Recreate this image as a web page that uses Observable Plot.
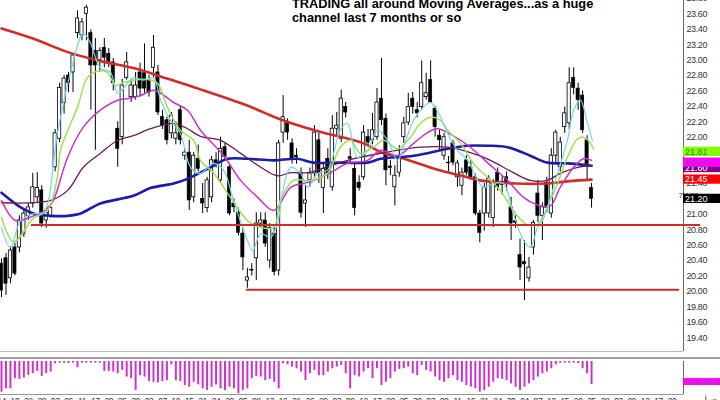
<!DOCTYPE html>
<html><head><meta charset="utf-8">
<script src="https://cdn.jsdelivr.net/npm/d3@7"></script>
<script src="https://cdn.jsdelivr.net/npm/@observablehq/plot@0.6"></script>
<style>
html,body{margin:0;padding:0;background:#fff;width:720px;height:400px;overflow:hidden;font-family:"Liberation Sans",Arial,sans-serif;}
#wrap{position:relative;width:720px;height:400px;overflow:hidden;}
#price{position:absolute;left:0;top:0;}
#ind{position:absolute;left:0;top:357px;border-top:2px solid #a0a0a0;width:720px;}
#title{position:absolute;left:292px;top:-3.4px;font:bold 12.8px "Liberation Sans",Arial,sans-serif;line-height:14.4px;color:#000;white-space:nowrap;z-index:2;}
.ax text{letter-spacing:-0.4px;}
</style></head>
<body>
<div id="wrap">
  <div id="price"></div>
  <div id="ind"></div>
  <div id="title">TRADING all around Moving Averages...as a huge<br>channel last 7 months or so</div>
</div>
<script>
// ---- candle data (bar index = position in arrays) ----
const open = [20.36,20.43,20.17,20.57,20.57,20.75,20.98,21.14,21.22,21.31,
20.92,20.98,21.61,21.98,22.44,22.80,22.84,23.35,23.32,23.60,
23.35,23.12,23.00,23.16,23.08,22.97,22.11,22.00,22.77,22.52,
22.52,22.84,22.83,22.74,22.90,22.84,22.26,22.22,22.05,21.98,
22.35,21.76,21.80,21.22,21.72,21.20,21.08,21.22,21.70,21.44,
21.87,21.61,21.14,21.02,20.75,20.14,20.27,20.43,20.88,20.92,
20.40,20.75,20.27,22.06,22.18,21.92,21.76,21.53,21.14,21.44,
21.53,21.96,21.34,21.72,21.35,22.11,21.98,22.39,21.74,21.59,
21.41,21.48,22.00,21.96,22.00,22.50,22.24,21.62,21.35,21.54,
22.00,22.19,22.50,22.35,22.39,22.52,22.74,22.37,22.02,21.76,
21.67,21.92,21.48,21.37,21.70,21.61,21.48,21.01,21.01,21.01,
20.95,21.54,21.38,21.48,21.09,20.91,20.47,20.38,20.17,20.57,
21.27,20.98,21.41,21.01,21.76,21.61,22.13,22.18,22.77,22.63,
22.54,21.96,21.34];
const high = [20.42,20.49,20.58,20.62,20.98,21.05,21.14,21.53,21.54,21.37,
21.05,21.14,22.10,22.70,22.80,22.84,23.08,23.64,23.54,23.71,
23.39,23.28,23.16,23.28,23.15,23.02,22.20,22.75,23.10,22.75,
22.84,22.96,23.21,22.80,23.32,22.93,22.35,22.26,22.32,22.20,
22.40,21.85,21.96,21.80,21.90,21.40,21.48,21.75,21.80,22.00,
21.92,21.66,21.20,21.08,20.82,20.30,20.36,21.02,21.02,21.02,
20.88,20.85,21.96,22.54,22.24,21.98,21.85,21.60,21.40,21.60,
22.15,22.05,21.66,21.85,22.28,22.32,22.61,22.45,21.85,21.65,
21.50,22.15,22.10,22.31,22.63,23.02,22.30,21.70,21.63,21.89,
22.26,22.57,22.58,22.45,22.99,22.83,22.99,22.40,22.09,22.05,
21.75,21.96,21.70,21.60,21.76,21.70,21.52,21.05,21.40,21.50,
21.45,21.60,21.50,21.55,21.22,20.98,20.68,20.66,20.44,20.92,
21.44,21.15,21.48,21.85,22.09,22.00,22.39,22.90,22.90,22.70,
22.60,22.02,21.40];
const low = [19.92,19.95,20.10,20.20,20.50,20.70,20.92,21.08,21.14,20.83,
20.82,20.95,21.55,21.93,22.30,22.58,22.58,23.28,23.25,23.25,
22.35,21.83,22.84,22.90,22.90,22.60,21.61,21.90,22.74,22.45,
22.48,22.52,22.57,22.52,22.77,22.28,22.10,21.90,21.98,21.90,
21.90,21.70,21.05,21.15,21.55,21.01,21.02,21.15,21.60,21.40,
21.70,20.98,21.02,20.72,20.27,20.04,20.20,20.14,20.82,20.57,
20.30,20.20,20.20,21.92,21.96,21.65,21.65,20.95,20.83,21.35,
21.48,21.40,21.01,21.45,21.30,22.00,21.93,22.25,21.65,20.98,
21.30,21.44,21.88,21.90,21.96,22.15,21.37,21.50,21.11,21.48,
21.92,22.15,22.30,22.25,22.35,22.48,22.44,22.00,21.83,21.70,
21.55,21.63,21.35,21.24,21.50,21.44,20.98,20.63,20.78,20.95,
20.83,21.30,21.25,21.30,20.66,20.82,20.14,19.88,20.12,20.47,
20.89,20.66,21.02,20.95,21.66,21.55,22.05,22.10,22.55,22.35,
22.05,21.44,21.08];
const close = [20.01,20.10,20.53,20.23,20.92,21.01,21.09,21.35,21.34,20.88,
21.02,21.08,22.05,22.64,22.76,22.70,23.06,23.54,23.49,23.68,
22.93,22.93,23.12,23.03,22.97,22.70,21.85,22.67,22.97,22.67,
22.67,22.63,22.63,22.58,23.16,22.32,22.15,21.96,22.28,22.05,
21.96,21.80,21.18,21.76,21.59,21.14,21.44,21.70,21.66,21.85,
21.74,21.01,21.09,20.76,20.44,20.18,20.28,20.88,20.92,20.62,
20.82,20.25,21.92,22.26,22.06,21.72,21.74,21.02,21.18,21.53,
22.06,21.53,21.59,21.53,22.11,22.15,22.50,22.32,21.72,21.08,
21.34,22.06,21.93,22.09,22.45,22.22,21.57,21.60,21.50,21.76,
22.18,22.39,22.39,22.31,22.70,22.57,22.45,22.13,21.96,22.00,
21.66,21.67,21.66,21.54,21.54,21.48,21.01,20.76,21.34,21.46,
21.41,21.35,21.42,21.40,20.88,20.89,20.31,20.35,20.31,20.89,
20.98,21.09,21.08,21.76,22.06,21.93,22.31,22.70,22.64,22.48,
22.09,21.63,21.20];

// ---- moving averages: [bar index, price] ----
const maRed = [[0,23.41],[7,23.28],[15,23.10],[22,22.99],[30,22.89],[37,22.76],[44,22.63],[55,22.41],[62,22.24],[70,22.09],[81,21.92],[85,21.80],[89,21.74],[98,21.57],[103,21.50],[107,21.44],[115,21.40],[122,21.40],[127,21.43],[132,21.45]];
const maBlue = [[0,21.28],[4.3,21.09],[7.2,21.01],[11,20.98],[14.8,20.98],[17.7,21.01],[22.1,21.14],[29.5,21.24],[33.3,21.34],[38.5,21.40],[41.6,21.46],[44.5,21.54],[47.4,21.63],[50.6,21.72],[55,21.72],[60.9,21.70],[66.2,21.72],[69.8,21.67],[75.8,21.67],[81.9,21.67],[84.8,21.72],[92.2,21.76],[99.8,21.85],[104.3,21.89],[108.7,21.89],[113.2,21.87],[118.3,21.76],[122.1,21.67],[126.6,21.66],[132,21.63]];
const maMaroon = [[0,21.15],[11,21.18],[14.8,21.31],[18.3,21.61],[22.1,21.79],[26,21.96],[29.5,22.02],[33.3,22.11],[38.5,22.18],[41.6,22.11],[44.5,22.01],[49,21.96],[53.5,21.79],[58,21.61],[61.7,21.50],[64.7,21.54],[68.5,21.54],[73.6,21.63],[78.7,21.72],[84.8,21.79],[93.7,21.87],[99.8,21.87],[104.9,21.80],[109.4,21.70],[114.5,21.54],[118.3,21.44],[122.1,21.44],[125,21.53],[128.9,21.61],[132,21.63]];
const maMagenta = [[0,21.18],[3.1,20.92],[7.2,20.98],[10.3,21.08],[11.6,21.18],[14.8,21.74],[18.3,22.13],[22.1,22.35],[26,22.48],[28.2,22.50],[31.1,22.54],[34,22.61],[35.6,22.57],[38.5,22.45],[41.6,22.35],[44.5,22.09],[49.7,21.76],[53.5,21.44],[57.3,21.22],[60.9,21.05],[64.7,21.35],[67.6,21.40],[69.8,21.44],[73.6,21.54],[77.4,21.66],[81.9,21.70],[84.8,21.83],[88.6,21.76],[92.2,21.92],[95.3,22.06],[97.5,22.11],[101,22.02],[104.9,21.87],[108.7,21.67],[113.2,21.44],[116.8,21.22],[120.6,21.11],[122.8,21.11],[125,21.35],[128,21.61],[130.2,21.72],[132,21.70]];
const maGreen = [[0,20.96],[2.7,20.64],[7.2,20.95],[10.3,21.05],[12.5,21.48],[13.2,21.83],[17,22.39],[19.2,22.77],[21.5,22.86],[23.7,22.84],[25.5,22.67],[27.3,22.71],[29.5,22.74],[32.7,22.75],[34.9,22.70],[37.1,22.39],[40,22.09],[43,21.96],[44.5,21.70],[47.4,21.54],[51.2,21.22],[55,20.92],[58,20.83],[60.9,20.83],[62.4,21.18],[65.3,21.44],[69.1,21.44],[72.9,21.53],[75.8,21.87],[78.1,21.96],[80.3,21.79],[83.2,21.87],[85.5,21.96],[88.6,21.85],[91.5,22.00],[93.7,22.18],[96,22.26],[98.2,22.22],[99.8,22.09],[102.7,21.92],[105.6,21.66],[108.7,21.48],[111.6,21.31],[114.5,21.05],[117.7,20.86],[120.6,20.89],[122.1,21.09],[124.4,21.40],[126.6,21.74],[128.9,21.98],[130.2,22.00],[131.8,21.92],[132.4,21.85]];
const maCyan = [[0,20.83],[2,20.57],[4.3,20.92],[7.2,21.01],[9.4,21.02],[12.5,22.05],[15.4,22.83],[18.3,23.35],[19.9,23.22],[22.1,22.90],[24.4,22.84],[26,22.57],[29.5,22.77],[31.8,22.74],[34,22.77],[35.6,22.48],[37.8,22.22],[40,22.05],[42.3,21.61],[44.5,21.53],[47.4,21.66],[49.7,21.57],[51.9,21.18],[55,20.66],[56.2,20.53],[58,20.75],[60.2,20.70],[61.7,20.88],[63.1,21.35],[64.7,21.61],[66.9,21.53],[68.5,21.35],[70.7,21.53],[72.9,21.57],[75.8,22.09],[77.4,22.18],[79.6,21.74],[81.9,21.83],[84.1,22.09],[86.4,21.96],[88.6,21.70],[89.9,21.87],[92.2,22.22],[94.4,22.39],[96,22.45],[97.8,22.31],[99.8,22.05],[102,21.83],[104.3,21.70],[106.5,21.44],[107.8,21.35],[110.1,21.40],[112.3,21.40],[114.5,21.01],[116.8,20.66],[118.3,20.57],[119.9,20.83],[122.1,21.09],[124.4,21.53],[126.6,21.96],[128,22.35],[129.5,22.48],[131.1,22.18],[132.2,21.96]];

// ---- hand-drawn support lines: price, first bar, last bar ----
const supportPrice = [20.86, 20.02];
const supportFrom = [6.7, 54.8];
const supportTo = [156.4, 151.7];

// ---- right-axis tick values ----
const priceTicks = [19.4,19.6,19.8,20.0,20.2,20.4,20.6,20.8,21.0,21.2,21.4,21.6,21.8,22.0,22.2,22.4,22.6,22.8,23.0,23.2,23.4,23.6,23.8];

// ---- last-value tags at the right axis ----
const tagValues = [21.60, 21.67, 21.81, 21.45, 21.20];
const tagTexts  = ["21.60","21.67","21.81","21.45","21.20"];
const tagBg     = ["#800080","#ff00ff","#80ff00","#ff0000","#000000"];
const tagFg     = ["#ffffff","#a040a0","#3a8a00","#ffffff","#ffffff"];

// ---- oscillator (Williams %R style) ----
const wpr = [-93,-83,-83,-52,-54,-50,-42,-37,-30,-45,
-37,-32,-7,-5,-5,-6,-5,-19,-5,-5,
-5,-5,-5,-30,-30,-32,-37,-27,-47,-52,
-88,-43,-47,-61,-63,-65,-61,-58,-10,-58,
-61,-73,-78,-63,-71,-83,-88,-78,-71,-83,
-88,-78,-83,-98,-88,-83,-52,-45,-47,-58,
-54,-63,-83,-7,-10,-17,-22,-32,-58,-37,
-27,-43,-43,-32,-22,-17,-12,-37,-83,-43,
-47,-32,-22,-52,-22,-73,-63,-52,-32,-24,
-22,-17,-37,-43,-12,-27,-32,-47,-58,-63,
-52,-43,-58,-63,-73,-78,-83,-93,-88,-78,
-63,-52,-54,-58,-68,-78,-88,-78,-68,-58,
-47,-37,-32,-22,-10,-5,-5,-5,-5,-6,
-22,-37,-69.7959];
const wprLast = "-69.7959";

// ---- date labels (one every 3 bars) ----
const dateLabels = ["14","19","22","28","03","06","11","17","20","25","30","02","07","10","15","21","24","29","05","08","13","16","21","26","29","03","09","12","17","20","25","30","03","08","11","16","21","24","30","04","07","12","15","20","25","28","03","09","12","17","20"];

// ---------------- build ----------------
const candles = open.map((o, i) => ({i, open:o, high:high[i], low:low[i], close:close[i]}));
const up = candles.filter(d => d.close >= d.open);
const down = candles.filter(d => d.close < d.open);
const xDomain = [-0.224, 152.57];
const yDomain = [19.2205, 23.773];
const xEdge = xDomain[1];
const FONT = "'Liberation Sans', Arial, sans-serif";
const supports = supportPrice.map((p, k) => ({p, a: supportFrom[k], b: supportTo[k]}));
const ma = (arr, stroke, w) => Plot.line(arr, {x: d => d[0], y: d => d[1], stroke, strokeWidth: w, curve: "catmull-rom"});

const tagMarks = [];
tagValues.forEach((v, k) => {
  tagMarks.push(Plot.rect([v], {x1: xEdge, x2: 161, y1: d => d - 0.06, y2: d => d + 0.06, fill: tagBg[k]}));
  tagMarks.push(Plot.text([v], {x: xEdge, y: d => d, text: () => tagTexts[k], textAnchor: "start", dx: 1.5, fill: tagFg[k], fontSize: 9}));
});

const price = Plot.plot({
  width: 720, height: 356,
  marginLeft: 0, marginRight: 37, marginTop: 0, marginBottom: 5,
  x: {domain: xDomain, axis: null},
  y: {domain: yDomain, axis: null},
  style: {fontFamily: FONT, fontSize: "9px", background: "transparent", overflow: "visible"},
  marks: [
    Plot.ruleY([yDomain[0]], {stroke: "#b4b4e6", strokeWidth: 1}),
    Plot.ruleX([xEdge], {stroke: "#666", strokeWidth: 1}),
    Plot.axisY({anchor: "right", ticks: priceTicks, tickSize: 0, tickPadding: 3, tickFormat: d => d.toFixed(2), fontSize: 9, color: "#333", className: "ax"}),
    Plot.ruleX(candles, {x: "i", y1: "low", y2: "high", stroke: "#000", strokeWidth: 1}),
    Plot.rect(up, {x1: d => d.i - 0.36, x2: d => d.i + 0.36, y1: "open", y2: "close", fill: "#fff", stroke: "#000", strokeWidth: 0.8}),
    Plot.rect(down, {x1: d => d.i - 0.36, x2: d => d.i + 0.36, y1: "open", y2: "close", fill: "#000", stroke: "#000", strokeWidth: 0.6}),
    ma(maRed, "#d42a2a", 2.6),
    ma(maBlue, "#1c1ca8", 2.6),
    ma(maMaroon, "#6a1b5a", 1.3),
    ma(maMagenta, "#c832c8", 1.5),
    ma(maGreen, "#a0e050", 1.5),
    ma(maCyan, "#70d8e8", 1.2),
    Plot.ruleY(supports, {y: "p", x1: "a", x2: "b", stroke: "#d42a2a", strokeWidth: 2}),
    Plot.text(["7/173"], {x: xEdge, y: 21.25, text: d => d, textAnchor: "middle", dx: 5, fill: "#333399", fontSize: 8}),
    ...tagMarks
  ]
});
document.getElementById("price").appendChild(price);

const wprData = wpr.map((v, i) => ({i, v}));
const dateTicks = dateLabels.map((_, k) => 3 * k);
const ind = Plot.plot({
  width: 720, height: 44,
  marginLeft: 0, marginRight: 37, marginTop: 2, marginBottom: 9,
  x: {domain: xDomain, axis: null},
  y: {domain: [-100, 0], axis: null},
  style: {fontFamily: FONT, fontSize: "8.5px", background: "transparent", overflow: "visible"},
  marks: [
    Plot.ruleY([-100], {stroke: "#999", strokeWidth: 1}),
    Plot.ruleX([xEdge], {stroke: "#666", strokeWidth: 1}),
    Plot.ruleX(wprData, {x: "i", y1: 0, y2: "v", stroke: "#cc33cc", strokeWidth: 2}),
    Plot.axisX({anchor: "bottom", ticks: dateTicks, tickSize: 0, tickPadding: 3, tickFormat: d => dateLabels[Math.round(d / 3)], fontSize: 8.5, color: "#333", className: "ax"}),
    Plot.rect([wpr[wpr.length - 1]], {x1: xEdge, x2: 161, y1: d => d + 18, y2: d => d - 3, fill: "#ff00ff"}),
    Plot.text([wpr[wpr.length - 1]], {x: xEdge, y: d => d + 7.5, text: () => wprLast, textAnchor: "start", dx: 1.5, fill: "#9955aa", fontSize: 8})
  ]
});
document.getElementById("ind").appendChild(ind);
</script>
</body></html>
